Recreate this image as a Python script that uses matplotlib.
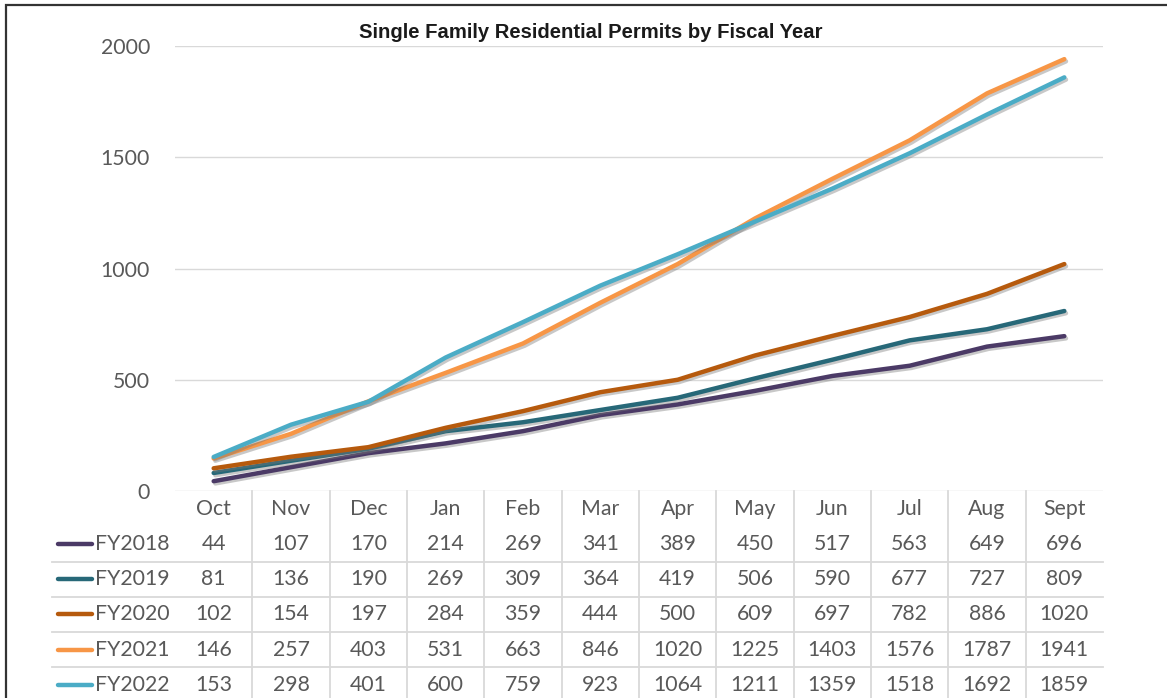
import matplotlib
matplotlib.use("Agg")
import matplotlib.pyplot as plt
import matplotlib.patheffects as pe
from matplotlib.lines import Line2D
from matplotlib.patches import Rectangle
import numpy as np

# Cumulative single family permits, by month of the fiscal year
months = ["Oct", "Nov", "Dec", "Jan", "Feb", "Mar", "Apr", "May", "Jun", "Jul", "Aug", "Sept"]
series_names = ["FY2018", "FY2019", "FY2020", "FY2021", "FY2022"]
fy2018 = [44, 107, 170, 214, 269, 341, 389, 450, 517, 563, 649, 696]
fy2019 = [81, 136, 190, 269, 309, 364, 419, 506, 590, 677, 727, 809]
fy2020 = [102, 154, 197, 284, 359, 444, 500, 609, 697, 782, 886, 1020]
fy2021 = [146, 257, 403, 531, 663, 846, 1020, 1225, 1403, 1576, 1787, 1941]
fy2022 = [153, 298, 401, 600, 759, 923, 1064, 1211, 1359, 1518, 1692, 1859]
series_values = [fy2018, fy2019, fy2020, fy2021, fy2022]
colors = ["#4b3a66", "#276878", "#b65a0d", "#f79646", "#4bacc6"]

W, H = 1167, 698
TXT = "#595959"
GRID = "#d9d9d9"
FONT = "Lato"
FS = 15.3

fig = plt.figure(figsize=(W / 100, H / 100), dpi=100)

# plot area in pixels
px_left, px_right, px_top, px_bottom = 175, 1103, 46, 491
ax = fig.add_axes([px_left / W, 1 - px_bottom / H,
                   (px_right - px_left) / W, (px_bottom - px_top) / H])

x = np.arange(len(months))
shadow = [pe.SimpleLineShadow(offset=(1.2, -1.6), shadow_color="#777777", alpha=0.4), pe.Normal()]
for vals, col in zip(series_values, colors):
    ax.plot(x, vals, color=col, lw=3.2, solid_capstyle="round",
            path_effects=shadow, zorder=3)

ax.set_xlim(-0.5, len(months) - 0.5)
ax.set_ylim(0, 2000)
ax.set_yticks([0, 500, 1000, 1500, 2000])
ax.set_xticks([])
ax.grid(axis="y", color=GRID, lw=1)
ax.set_axisbelow(True)
for s in ax.spines.values():
    s.set_visible(False)
ax.tick_params(axis="y", length=0, pad=18, labelsize=FS, labelcolor=TXT)
for lab in ax.get_yticklabels():
    lab.set_fontfamily(FONT)

fig.text(591 / W, 1 - 33 / H, "Single Family Residential Permits by Fiscal Year",
         ha="center", va="center", fontsize=14.6, fontweight="bold",
         family="Liberation Sans", color="#1a1a1a")


def fx(px):
    return px / W


def fy(py):
    return 1 - py / H


# data table under the plot
col_w = (px_right - px_left) / len(months)
row_h = 35.2
header_y = 509
first_row_y = 544

for i in range(1, len(months)):
    xx = px_left + i * col_w
    fig.add_artist(Line2D([fx(xx), fx(xx)], [fy(px_bottom), fy(H + 5)], color=GRID, lw=1.3))

for r in range(1, len(series_names)):
    yy = first_row_y + (r - 0.5) * row_h
    fig.add_artist(Line2D([fx(52), fx(px_right)], [fy(yy), fy(yy)], color=GRID, lw=1.3))

for i, m in enumerate(months):
    fig.text(fx(px_left + (i + 0.5) * col_w), fy(header_y), m, ha="center", va="center",
             fontsize=FS, color=TXT, family=FONT)

for r, (name, vals, col) in enumerate(zip(series_names, series_values, colors)):
    yy = first_row_y + r * row_h
    fig.add_artist(Line2D([fx(58), fx(92)], [fy(yy), fy(yy)], color=col, lw=3.2,
                          solid_capstyle="round"))
    fig.text(fx(95), fy(yy), name, ha="left", va="center", fontsize=FS,
             color=TXT, family=FONT)
    for i, v in enumerate(vals):
        fig.text(fx(px_left + (i + 0.5) * col_w), fy(yy), str(v), ha="center", va="center",
                 fontsize=FS, color=TXT, family=FONT)

# outer frame
fig.add_artist(Rectangle((fx(6), fy(H + 20)), 1.2, fy(5) - fy(H + 20), fill=False,
                         edgecolor="#333333", lw=1.6, transform=fig.transFigure))

fig.savefig("out.png", dpi=100, facecolor="white")
